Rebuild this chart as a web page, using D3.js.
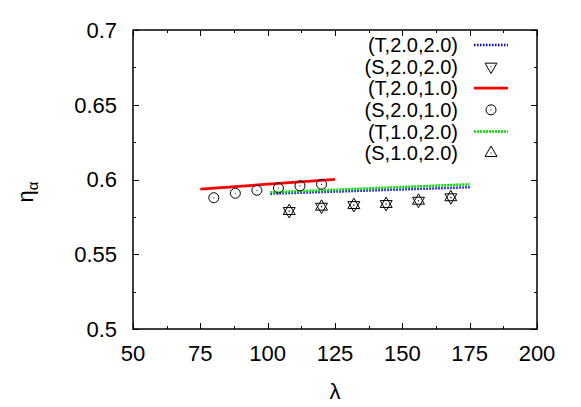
<!DOCTYPE html>
<html><head><meta charset="utf-8">
<script src="https://cdn.jsdelivr.net/npm/d3@7"></script>
<style>body{margin:0;background:#fff}svg{display:block}text{font-family:"Liberation Sans",Arial,sans-serif;fill:#000}</style>
</head><body>
<svg id="c" width="581" height="407"></svg>
<script>
// data
const xTicks = [50, 75, 100, 125, 150, 175, 200];
const yTicks = [0.5, 0.55, 0.6, 0.65, 0.7];
const lineT22x = [101, 175], lineT22y = [0.5905, 0.5948];
const lineT21x = [75, 125], lineT21y = [0.5936, 0.6001];
const lineT12x = [101, 175], lineT12y = [0.5914, 0.5968];
const ptsS21x = [80, 88, 96, 104, 112, 120];
const ptsS21y = [0.5878, 0.5908, 0.5928, 0.5943, 0.5957, 0.5968];
const ptsS22x = [108, 120, 132, 144, 156, 168];
const ptsS22y = [0.5789, 0.5818, 0.5829, 0.5836, 0.5858, 0.5881];
const ptsS12x = [108, 120, 132, 144, 156, 168];
const ptsS12y = [0.5789, 0.5818, 0.5829, 0.5836, 0.5858, 0.5881];
const legendLabels = ["(T,2.0,2.0)", "(S,2.0,2.0)", "(T,2.0,1.0)", "(S,2.0,1.0)", "(T,1.0,2.0)", "(S,1.0,2.0)"];

const L = 133, R = 537, T = 30, B = 329;
const svg = d3.select("#c");
const x = d3.scaleLinear().domain([50, 200]).range([L, R]);
const y = d3.scaleLinear().domain([0.5, 0.7]).range([B, T]);

// ticks (inward, mirrored)
const g = svg.append("g").attr("stroke", "#000").attr("stroke-width", 1);
const xMinor = d3.range(50, 200.01, 12.5);
const yMinor = d3.range(0.5, 0.7001, 0.025);
xMinor.forEach((v, i) => {
  const len = i % 2 === 0 ? 6 : 3;
  const px = Math.round(x(v)) + 0.5;
  g.append("line").attr("x1", px).attr("x2", px).attr("y1", B).attr("y2", B - len);
  g.append("line").attr("x1", px).attr("x2", px).attr("y1", T).attr("y2", T + len);
});
yMinor.forEach((v, i) => {
  const len = i % 2 === 0 ? 6 : 3;
  const py = Math.round(y(v)) + 0.5;
  g.append("line").attr("y1", py).attr("y2", py).attr("x1", L).attr("x2", L + len);
  g.append("line").attr("y1", py).attr("y2", py).attr("x1", R).attr("x2", R - len);
});
svg.append("rect").attr("x", L).attr("y", T).attr("width", R - L).attr("height", B - T)
  .attr("fill", "none").attr("stroke", "#000").attr("stroke-width", 1.5);

// tick labels
xTicks.forEach(v => svg.append("text").attr("x", x(v)).attr("y", 361).attr("text-anchor", "middle")
  .attr("font-size", 22).text(v));
yTicks.forEach(v => svg.append("text").attr("x", 117).attr("y", y(v)).attr("dy", "0.36em").attr("text-anchor", "end")
  .attr("font-size", 22).text(String(v)));

// axis labels
svg.append("text").attr("x", (L + R) / 2).attr("y", 399).attr("text-anchor", "middle").attr("font-size", 22).text("λ");
const yl = svg.append("text").attr("transform", "translate(33,192) rotate(-90)").attr("text-anchor", "middle").attr("font-size", 22);
yl.append("tspan").text("η");
yl.append("tspan").attr("font-size", 15).attr("dy", 5).text("α");

const line = d3.line().x(d => x(d[0])).y(d => y(d[1]));
const plot = svg.append("g");
plot.append("path").datum(d3.zip(lineT22x, lineT22y)).attr("d", line).attr("fill", "none")
  .attr("stroke", "#0000ff").attr("stroke-width", 2.5).attr("stroke-dasharray", "1.5,1.5");
plot.append("path").datum(d3.zip(lineT12x, lineT12y)).attr("d", line).attr("fill", "none")
  .attr("stroke", "#00e000").attr("stroke-width", 2.5).attr("stroke-dasharray", "2,1");
plot.append("path").datum(d3.zip(lineT21x, lineT21y)).attr("d", line).attr("fill", "none")
  .attr("stroke", "#ff0000").attr("stroke-width", 2.7);

function circ(gp, cx, cy) {
  gp.append("circle").attr("cx", cx).attr("cy", cy).attr("r", 5).attr("fill", "none").attr("stroke", "#000").attr("stroke-width", 1);
  gp.append("circle").attr("cx", cx).attr("cy", cy).attr("r", 0.6).attr("fill", "#000");
}
const triSym = d3.symbol().type(d3.symbolTriangle).size(62);
function tri(gp, cx, cy, down) {
  gp.append("path").attr("d", triSym()).attr("transform", `translate(${cx},${cy})` + (down ? " rotate(180)" : ""))
    .attr("fill", "none").attr("stroke", "#000").attr("stroke-width", 1);
  gp.append("circle").attr("cx", cx).attr("cy", cy).attr("r", 0.6).attr("fill", "#000");
}
ptsS21x.forEach((v, i) => circ(plot, x(v), y(ptsS21y[i])));
ptsS22x.forEach((v, i) => tri(plot, x(v), y(ptsS22y[i]), true));
ptsS12x.forEach((v, i) => tri(plot, x(v), y(ptsS12y[i]), false));

// legend
const ly0 = 45, ldy = 21.6;
legendLabels.forEach((t, i) => {
  svg.append("text").attr("x", 458).attr("y", ly0 + i * ldy).attr("dy", "0.36em").attr("text-anchor", "end")
    .attr("font-size", 20).text(t);
});
const lx1 = 474, lx2 = 508, lmx = 491;
svg.append("line").attr("x1", lx1).attr("x2", lx2).attr("y1", ly0).attr("y2", ly0)
  .attr("stroke", "#0000ff").attr("stroke-width", 2.5).attr("stroke-dasharray", "1.5,1.5");
tri(svg, lmx, ly0 + ldy, true);
svg.append("line").attr("x1", lx1).attr("x2", lx2).attr("y1", ly0 + 2 * ldy).attr("y2", ly0 + 2 * ldy)
  .attr("stroke", "#ff0000").attr("stroke-width", 2.7);
circ(svg, lmx, ly0 + 3 * ldy);
svg.append("line").attr("x1", lx1).attr("x2", lx2).attr("y1", ly0 + 4 * ldy).attr("y2", ly0 + 4 * ldy)
  .attr("stroke", "#00e000").attr("stroke-width", 2.5).attr("stroke-dasharray", "2,1");
tri(svg, lmx, ly0 + 5 * ldy, false);
</script>
</body></html>
